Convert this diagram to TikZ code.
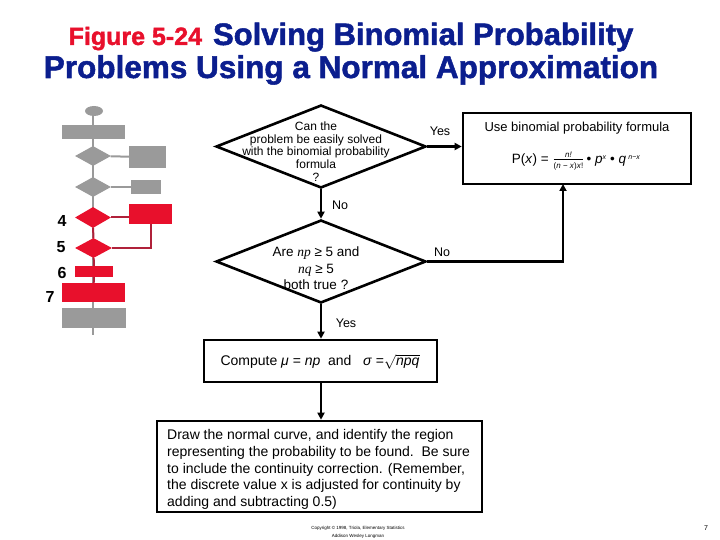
\documentclass[tikz,border=0pt]{standalone}
\usepackage{fontspec}
\setmainfont{Liberation Sans}
\newfontfamily\serifit{Liberation Serif}[ItalicFont=* Italic]
\newfontfamily\titlefont{Liberation Sans Bold}[FakeBold=1.6]
\usetikzlibrary{shapes.geometric,arrows.meta,calc}
\definecolor{navy}{HTML}{0B1E8E}
\definecolor{figred}{HTML}{E8102C}
\definecolor{mgray}{HTML}{9A9A9A}
\definecolor{mred}{HTML}{E8102C}
\definecolor{dred}{HTML}{B0213A}
\tikzset{
  mainbox/.style={draw, line width=2.6pt, inner sep=0pt},
  maindia/.style={draw, diamond, line width=2.6pt, inner sep=0pt, aspect=2.5},
  arr/.style={line width=2.6pt, -{Triangle[length=7pt,width=7pt]}},
  lbl/.style={font=\fontsize{12.5}{14}\selectfont, inner sep=0pt},
  gbox/.style={fill=mgray, draw=none, inner sep=0pt},
  gdia/.style={diamond, fill=mgray, draw=none, inner sep=0pt},
  rbox/.style={fill=mred, draw=none, inner sep=0pt},
  rdia/.style={diamond, fill=mred, draw=none, inner sep=0pt},
  gline/.style={draw=mgray, line width=2pt},
  rline/.style={draw=dred, line width=2pt},
  num/.style={font=\fontsize{16}{18}\selectfont\bfseries, inner sep=0pt}
}
\begin{document}
\begin{tikzpicture}[x=1pt,y=-1pt]
\useasboundingbox (0,0) rectangle (720,540);

% ---------- title ----------
\node[anchor=base, inner sep=0pt] (t1) at (351,45)
  {{\color{figred}\fontsize{25}{28}\selectfont\titlefont Figure 5-24}\hspace{11pt}{\color{navy}\fontsize{31}{34}\selectfont\titlefont Solving Binomial Probability}};
\node[anchor=base, inner sep=0pt] (t2) at (351,78)
  {\color{navy}\fontsize{31.5}{34}\selectfont\titlefont Problems Using a Normal Approximation};

% ---------- mini flowchart ----------
\coordinate (mtop) at (93,111);
\coordinate (mbot) at (93,335);
\draw[gline] (mtop) -- (mbot);
\node[ellipse, fill=mgray, inner sep=0pt, minimum width=18pt, minimum height=10pt] (m0) at (94,111) {};
\node[gbox, minimum width=63pt, minimum height=14pt] (m1) at (93.5,132) {};
\node[gdia, minimum width=36pt, minimum height=20pt] (m2) at (93,156) {};
\node[gbox, minimum width=37pt, minimum height=22pt] (m2r) at (147.5,157) {};
\node[gdia, minimum width=36pt, minimum height=20pt] (m3) at (93,187) {};
\node[gbox, minimum width=30pt, minimum height=14pt] (m3r) at (146,187) {};
\draw[gline] (m2) -- (m2r);
\draw[gline] (m3) -- (m3r);
\node[rdia, minimum width=36pt, minimum height=21pt] (m4) at (93,217.5) {};
\node[rbox, minimum width=43pt, minimum height=20pt] (m4r) at (150.5,214) {};
\node[rdia, minimum width=37pt, minimum height=20pt] (m5) at (93.5,248) {};
\node[rbox, minimum width=38pt, minimum height=11pt] (m6) at (94,271.5) {};
\node[rbox, minimum width=63pt, minimum height=19pt] (m7) at (93.5,292.5) {};
\node[gbox, minimum width=64pt, minimum height=20pt] (m8) at (94,318) {};
\draw[rline] (m4) -- (m5);
\draw[rline] (m5) -- (m6);
\draw[rline] (m6) -- (m7);
\draw[rline] (m4.east) -- (m4r.west |- m4.east);
\draw[rline] (m4r.south) |- (m5.east);
\node[num] (n4) at (62,221) {4};
\node[num] (n5) at (61,247) {5};
\node[num] (n6) at (62,273) {6};
\node[num] (n7) at (50,297) {7};

% ---------- main flowchart ----------
\node[maindia, minimum width=210pt, minimum height=83pt] (d1) at (321,146.5) {};
\node[align=center, inner sep=0pt, font=\fontsize{12}{12.7}\selectfont] (d1t) at (316,151.5)
  {Can the\\problem be easily solved\\with the binomial probability\\formula\\?};

\node[mainbox, minimum width=228pt, minimum height=71pt] (b1) at (577,148.5) {};
\node[inner sep=0pt, font=\fontsize{13}{15}\selectfont] (b1t) at (577,128.5) {Use binomial probability formula};
\node[inner sep=0pt, font=\fontsize{13.5}{15}\selectfont] (b1f) at (576,161)
  {P(\textit{x}) = $\frac{\mbox{\fontsize{8}{9}\selectfont\itshape n!}}{\mbox{\fontsize{8}{9}\selectfont(\textit{n} − \textit{x})\textit{x}!}}$\,• \textit{p}\raisebox{4pt}{\fontsize{7}{8}\selectfont\textit{x}} • \textit{q}\,\raisebox{4pt}{\fontsize{7}{8}\selectfont\textit{n}−\textit{x}}};

\node[maindia, minimum width=210pt, minimum height=83pt] (d2) at (321,261.5) {};
\node[align=center, inner sep=0pt, font=\fontsize{13.5}{16.5}\selectfont] (d2t) at (316,268.5)
  {Are {\serifit\itshape np} ≥ 5 and\\{\serifit\itshape nq} ≥ 5\\both true ?};

\node[mainbox, minimum width=233pt, minimum height=42pt] (c1) at (320.5,361) {};
\node[inner sep=0pt, font=\fontsize{14}{16}\selectfont] (c1t) at (320,362)
  {Compute \textit{μ} = \textit{np}\ \ and\ \ \ \textit{σ} =$\sqrt{\mbox{\itshape npq}}$};

\node[mainbox, minimum width=325pt, minimum height=91pt] (e1) at (319.5,466.5) {};
\node[anchor=west, align=left, inner sep=0pt, font=\fontsize{14}{16.7}\selectfont] (e1t) at (167,469.5)
  {Draw the normal curve, and identify the region\\
   representing the probability to be found.\ \ Be sure\\
   to include the continuity correction. (Remember,\\
   the discrete value x is adjusted for continuity by\\
   adding and subtracting 0.5)};

% connectors
\coordinate (b1in) at (563,184);
\draw[arr] (d1.east) -- (b1.west |- d1.east);
\draw[arr] (d1.south) -- (d2.north);
\draw[arr] (d2.east) -| (b1in);
\draw[arr] (d2.south) -- (c1.north -| d2.south);
\draw[arr] (c1.south -| d2.south) -- (e1.north -| d2.south);

% labels
\node[lbl] (yes1) at (440,131) {Yes};
\node[lbl] (no1) at (340,205) {No};
\node[lbl] (no2) at (442,252) {No};
\node[lbl] (yes2) at (346,323) {Yes};

% footer
\node[inner sep=0pt, align=center, font=\fontsize{4.5}{8}\selectfont] (copy) at (358,532)
  {Copyright © 1998, Triola, Elementary Statistics\\Addison Wesley Longman};
\node[inner sep=0pt, font=\fontsize{7}{8}\selectfont] (pg) at (706,528) {7};
\end{tikzpicture}
\end{document}
